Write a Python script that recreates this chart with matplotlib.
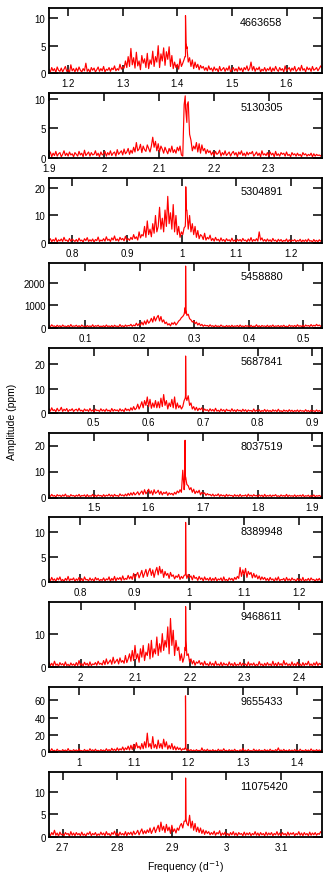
import numpy as np
import matplotlib
matplotlib.use("Agg")
import matplotlib.pyplot as plt
from matplotlib.ticker import FormatStrFormatter

plt.rcParams['font.family'] = ['Liberation Sans', 'DejaVu Sans']

# star IDs (KIC), one panel each
stars = ["4663658", "5130305", "5304891", "5458880", "5687841",
         "8037519", "8389948", "9468611", "9655433", "11075420"]

# frequency window of each panel (d^-1)
f_lo = [1.165, 1.900, 0.757, 0.034, 0.418, 1.418, 0.743, 1.942, 0.945, 2.675]
f_hi = [1.665, 2.397, 1.257, 0.534, 0.918, 1.918, 1.243, 2.442, 1.445, 3.175]

# amplitude axis top
y_top = [11.9, 11.0, 23.8, 2900, 27.0, 25.0, 13.0, 19.3, 75.0, 14.3]

y_ticks = [[0, 5, 10], [0, 5, 10], [0, 10, 20], [0, 1000, 2000], [0, 10, 20],
           [0, 10, 20], [0, 5, 10], [0, 10], [0, 20, 40, 60], [0, 5, 10]]

x_ticks = [[1.2, 1.3, 1.4, 1.5, 1.6],
           [1.9, 2.0, 2.1, 2.2, 2.3],
           [0.8, 0.9, 1.0, 1.1, 1.2],
           [0.1, 0.2, 0.3, 0.4, 0.5],
           [0.5, 0.6, 0.7, 0.8, 0.9],
           [1.5, 1.6, 1.7, 1.8, 1.9],
           [0.8, 0.9, 1.0, 1.1, 1.2],
           [2.0, 2.1, 2.2, 2.3, 2.4],
           [1.0, 1.1, 1.2, 1.3, 1.4],
           [2.7, 2.8, 2.9, 3.0, 3.1]]

# amplitude spectra on an even grid across each window
# (one row = 0.05 d^-1)
amp_4663658 = [
    0.6,0.2,1.0,0.4,0.8,0.1,1.1,0.5,0.3,0.9,0.2,0.7,1.2,0.3,0.6,0.1,1.5,0.4,0.8,0.2,
    0.9,0.3,1.1,0.5,0.2,0.8,0.4,1.8,0.3,0.7,0.1,1.0,0.5,0.9,0.2,0.6,1.1,0.3,0.8,0.4,
    1.2,0.2,0.7,0.5,1.0,0.3,0.9,0.6,1.3,0.4,0.8,0.5,1.6,0.7,1.1,0.9,2.2,1.0,3.0,1.2,
    4.5,1.5,2.8,0.9,3.8,1.3,2.2,0.6,3.2,1.8,2.6,1.0,3.6,0.8,2.4,1.6,4.0,1.2,3.0,2.0,
    5.0,1.0,3.5,2.2,4.6,1.4,3.9,2.5,4.8,1.2,3.2,0.8,2.0,1.0,1.6,0.7,2.6,1.2,1.8,2.5,
    3.0,4.5,2.0,2.8,1.2,2.4,0.8,2.0,1.0,1.6,0.6,1.4,0.9,1.2,0.5,1.0,0.4,1.3,0.6,0.9,
    0.3,1.1,0.5,0.8,0.2,1.2,0.4,0.7,1.0,0.3,0.9,0.5,1.3,0.2,0.6,1.0,0.4,0.8,0.3,1.1,
    0.5,0.9,0.2,1.0,0.6,1.3,0.4,0.8,2.0,0.5,1.2,0.3,0.9,0.6,1.1,0.2,0.7,0.4,1.0,0.3,
    0.8,0.5,1.1,0.2,0.9,0.4,1.2,0.6,0.3,1.0,0.5,0.8,0.2,1.3,0.4,0.7,1.0,0.3,0.9,0.5,
    1.2,0.3,0.6,1.0,0.4,1.4,0.5,0.8,0.2,1.1,0.6,0.9,0.3,1.2,0.5,0.7,1.0,0.4,0.8,1.3,
    0.9]
amp_5130305 = [
    0.5,1.0,0.2,0.8,0.4,1.1,0.3,0.7,0.9,0.2,0.6,1.2,0.4,0.8,0.3,1.0,0.5,0.7,0.2,0.9,
    0.6,0.3,1.1,0.5,0.8,0.2,1.3,0.4,0.7,1.0,0.3,0.9,0.5,0.6,1.2,0.4,0.8,0.2,1.0,0.5,
    0.7,1.1,0.3,0.9,0.5,1.2,0.4,0.8,1.0,0.3,1.4,0.6,0.9,1.2,0.5,1.5,0.7,1.0,1.6,0.6,
    1.3,0.8,1.8,1.0,2.6,1.2,1.5,2.3,0.9,2.0,1.4,1.1,2.2,1.6,1.0,2.0,3.5,1.8,2.8,1.2,
    2.4,1.0,2.0,1.5,0.8,1.8,1.2,0.7,1.6,1.0,2.0,0.9,1.4,0.8,1.8,1.2,2.0,0.5,0.3,9.0,
    8.5,6.0,9.5,4.0,3.0,1.2,2.0,1.5,2.6,1.0,2.4,0.8,2.2,1.2,1.6,0.7,1.4,0.9,1.2,0.5,
    1.0,0.4,1.1,0.6,0.8,1.3,0.3,0.9,0.5,1.2,0.4,0.7,1.0,0.3,0.8,1.1,0.5,0.9,0.2,1.0,
    0.6,1.2,0.4,0.8,0.3,1.0,0.5,0.9,0.7,1.1,0.3,0.6,1.0,0.4,0.8,0.2,1.2,0.5,0.7,0.4,
    0.9,0.3,1.0,0.5,0.8,0.2,1.1,0.4,0.7,0.3,0.9,0.6,0.8,0.3,1.0,0.4,0.6,0.2,0.9,0.5,
    0.7,0.3,0.8,0.4,0.6,0.2,0.9,0.5,0.7,0.3,0.6,0.4,0.8,0.2,0.7,0.3,0.6,0.4,0.5,0.3,
    0.6]
amp_5304891 = [
    0.8,1.5,0.4,1.2,0.6,1.8,0.3,1.1,0.7,1.4,0.5,2.0,0.8,1.0,0.4,1.6,0.6,1.3,0.9,0.5,
    1.2,0.4,1.7,0.7,1.0,0.3,1.5,0.8,1.9,0.5,1.1,0.6,1.4,0.3,1.2,0.8,2.1,0.5,1.0,0.7,
    1.5,0.6,2.2,0.9,1.3,0.5,1.8,1.0,2.5,0.8,1.4,0.6,2.0,1.1,1.6,0.7,2.4,1.0,1.5,0.9,
    2.0,1.2,3.0,1.5,2.2,1.0,4.0,1.8,3.0,2.5,6.0,2.0,8.0,3.0,5.0,2.2,7.0,3.5,10.0,4.0,
    6.0,13.0,5.0,9.0,4.0,12.0,6.0,17.0,7.0,11.0,5.0,14.0,4.0,10.0,3.0,6.0,2.0,4.0,3.0,5.5,
    8.0,12.0,5.0,10.0,4.0,7.0,3.0,6.0,2.0,4.5,1.5,3.0,2.5,1.2,3.5,1.0,2.0,1.4,2.8,0.8,
    1.6,0.6,2.0,0.9,1.3,0.5,1.8,0.7,1.2,0.4,1.5,0.8,1.1,0.5,1.7,0.6,1.0,0.4,1.3,0.7,
    1.2,0.5,1.6,0.8,1.0,0.4,1.4,0.6,1.9,0.5,1.2,0.7,1.5,0.6,4.0,1.0,1.8,0.6,1.2,0.5,
    1.4,0.6,1.1,0.4,1.6,0.7,1.0,0.3,1.3,0.6,1.2,0.4,0.9,0.6,1.4,0.3,1.1,0.5,1.0,0.7,
    1.2,0.4,0.9,0.6,1.3,0.3,1.0,0.5,1.1,0.4,1.4,0.6,0.8,0.3,1.2,0.5,0.9,0.4,1.1,0.6,
    1.0]
amp_5458880 = [
    100,40,130,60,80,30,110,50,90,20,120,60,70,40,100,30,140,50,80,60,
    110,40,90,30,120,60,70,20,100,50,80,40,130,30,90,60,110,40,70,50,
    90,30,120,50,80,40,100,20,110,60,70,40,140,50,90,30,120,60,100,80,
    150,60,120,80,200,90,180,110,250,120,300,150,350,200,280,420,250,500,300,450,
    550,300,500,250,350,180,250,120,180,80,220,150,250,120,200,300,350,450,500,600,
    650,550,600,400,350,250,300,180,250,120,200,90,150,60,120,80,100,50,130,60,
    90,30,110,50,80,40,120,60,70,20,100,50,90,30,110,40,80,60,100,30,
    120,50,80,30,100,60,90,20,110,40,70,50,130,40,90,30,100,60,80,40,
    110,30,90,50,120,40,80,60,100,30,90,50,110,40,70,30,120,60,90,50,
    100,40,130,60,90,50,110,30,120,70,100,50,140,60,110,70,150,80,120,60,
    100]
amp_5687841 = [
    1.5,0.6,2.0,0.8,1.2,0.4,1.8,0.7,1.0,2.2,0.5,1.4,0.8,1.7,0.4,1.2,0.9,1.6,0.5,1.1,
    1.4,0.6,1.8,0.7,1.0,0.4,1.5,0.8,1.2,0.5,1.7,0.6,1.1,0.3,1.4,0.8,1.0,0.5,1.6,0.7,
    1.2,0.5,1.5,0.7,1.0,0.4,1.7,0.6,1.3,0.8,1.1,0.5,1.6,0.7,1.2,0.4,1.8,0.9,1.4,0.7,
    2.0,1.0,2.5,1.2,1.8,3.5,1.5,2.8,4.5,2.0,5.0,3.0,6.5,2.5,5.5,1.8,4.0,2.2,5.0,2.0,
    4.5,2.0,6.0,2.5,7.5,3.0,5.0,1.5,4.0,2.5,5.5,2.0,6.5,1.5,4.0,2.0,3.0,1.5,2.5,5.0,
    7.0,5.0,7.0,3.0,4.0,1.5,2.5,1.0,2.2,0.8,1.8,1.2,2.0,0.6,1.5,0.9,1.2,0.5,1.6,0.7,
    1.3,0.5,1.8,0.6,1.0,0.4,1.5,0.7,1.2,0.3,1.4,0.8,1.0,0.5,1.6,0.6,1.1,0.4,1.3,0.7,
    1.0,0.4,1.4,0.6,1.2,0.3,1.1,0.7,0.9,0.4,1.5,0.5,1.0,0.6,1.2,0.3,0.9,0.5,1.3,0.4,
    1.1,0.5,0.9,0.3,1.2,0.6,1.0,0.4,1.4,0.5,0.8,0.3,1.1,0.6,0.9,0.4,1.2,0.5,1.0,0.3,
    0.9,0.5,1.1,0.3,1.0,0.6,0.8,0.4,1.2,0.5,0.9,0.3,1.0,0.6,0.8,0.4,1.1,0.5,0.9,0.4,
    0.8]
amp_8037519 = [
    1.0,0.4,1.2,0.5,0.8,0.2,1.1,0.6,0.9,0.3,1.0,0.5,1.3,0.4,0.7,0.2,1.1,0.6,0.8,0.3,
    0.9,0.5,1.2,0.3,0.8,0.6,1.0,0.2,1.1,0.4,0.7,0.5,1.2,0.3,0.9,0.4,1.0,0.6,0.8,0.3,
    1.1,0.4,0.9,0.6,1.3,0.5,1.0,0.3,1.2,0.6,0.8,0.4,1.4,0.7,1.0,0.5,1.3,0.6,1.6,0.8,
    1.8,0.9,2.0,1.0,1.5,2.2,1.0,1.8,2.5,1.2,3.0,1.4,2.2,3.2,1.5,2.6,1.0,3.0,1.6,2.0,
    2.8,1.2,2.4,1.0,2.0,1.5,2.2,0.8,1.8,1.2,1.6,0.9,2.0,1.3,2.5,1.8,3.0,2.0,10.5,3.0,
    8.0,5.0,4.5,3.0,3.8,2.0,3.2,1.5,2.5,1.8,2.8,1.0,2.0,1.4,1.8,0.8,1.5,1.0,1.2,0.6,
    1.3,0.5,1.0,0.7,1.4,0.4,1.1,0.6,0.9,0.3,1.2,0.5,1.0,0.7,0.8,0.3,1.1,0.5,0.9,0.4,
    1.2,0.4,0.8,0.6,1.0,0.3,1.3,0.5,0.9,0.4,1.1,0.6,0.8,0.3,1.0,0.5,0.9,0.2,1.2,0.4,
    0.8,0.5,1.0,0.3,0.9,0.6,1.1,0.4,0.7,0.3,1.0,0.5,0.8,0.4,1.2,0.3,0.9,0.5,0.7,0.4,
    1.0,0.3,0.8,0.5,0.9,0.4,1.1,0.3,0.7,0.5,0.9,0.2,0.8,0.4,1.0,0.3,0.7,0.5,0.8,0.4,
    0.6]
amp_8389948 = [
    0.8,0.3,1.0,0.4,0.7,0.2,0.9,0.5,1.1,0.3,0.6,0.2,0.8,0.4,1.2,0.3,0.7,0.5,0.9,0.2,
    0.7,0.4,1.0,0.3,0.8,0.2,1.1,0.5,0.6,0.3,0.9,0.4,0.7,0.2,1.0,0.5,0.8,0.3,0.6,0.4,
    0.9,0.3,0.7,0.5,1.1,0.2,0.8,0.4,1.2,0.3,0.9,0.6,1.0,0.4,1.3,0.5,0.8,0.6,1.4,0.7,
    1.2,0.6,1.8,0.8,1.5,2.0,0.9,1.6,2.4,1.0,1.8,2.6,1.2,2.2,2.8,1.4,2.5,1.0,2.2,3.0,
    1.5,3.2,1.8,2.6,1.0,2.2,1.4,1.8,0.8,2.0,1.2,1.5,0.7,1.3,1.0,1.6,0.6,1.2,0.8,1.4,
    1.8,0.8,1.6,1.0,1.3,0.5,1.4,0.8,1.0,0.4,1.2,0.6,0.9,0.3,1.1,0.5,0.8,0.4,1.0,0.3,
    0.8,0.4,1.0,0.3,0.7,0.5,0.9,0.2,1.1,0.4,0.6,0.3,0.9,0.5,0.8,0.3,1.0,0.6,1.2,0.8,
    3.0,1.2,2.5,1.5,2.8,1.0,2.2,1.6,2.0,0.9,1.8,1.0,1.5,0.7,1.3,0.5,1.1,0.6,1.0,0.4,
    0.8,0.3,1.0,0.5,0.7,0.2,0.9,0.4,1.1,0.3,0.6,0.5,0.8,0.2,1.0,0.4,0.7,0.3,0.9,0.5,
    0.6,0.2,0.8,0.4,0.7,0.3,1.0,0.2,0.6,0.4,0.8,0.3,0.9,0.5,0.6,0.2,0.7,0.4,0.8,0.3,
    0.5]
amp_9468611 = [
    1.5,0.5,1.2,0.4,1.8,0.6,1.0,0.3,1.4,0.7,1.1,0.4,1.6,0.5,0.9,0.3,1.3,0.6,1.0,0.4,
    1.4,0.5,2.0,0.6,1.1,0.4,1.5,0.7,1.2,0.3,1.6,0.5,1.0,0.8,1.4,0.6,1.8,0.9,1.2,0.7,
    2.0,0.8,2.5,1.0,1.6,2.2,0.9,3.0,1.2,1.8,2.4,1.0,2.8,1.5,2.0,1.2,3.5,1.4,2.5,4.0,
    1.8,5.0,2.0,6.5,2.5,4.0,1.5,5.5,3.0,6.5,2.0,4.5,3.5,7.0,2.5,8.0,3.0,5.5,4.0,9.0,
    3.5,7.0,4.5,10.0,5.0,8.0,6.0,12.0,4.0,14.5,6.5,11.0,3.5,8.0,5.0,6.0,2.0,4.0,1.5,3.0,
    5.0,3.5,4.0,1.5,2.5,1.0,2.0,0.6,1.6,1.2,2.0,0.8,1.4,0.5,1.8,0.7,1.1,0.4,1.6,0.6,
    1.2,0.4,1.8,0.6,1.0,0.5,1.5,0.3,1.3,0.7,1.0,0.4,1.6,0.6,1.1,0.3,1.4,0.5,0.9,0.6,
    1.5,0.4,1.2,0.7,1.0,0.3,1.6,0.5,1.1,0.6,1.3,0.4,0.9,0.5,1.7,0.6,1.0,0.3,1.2,0.5,
    1.4,0.6,1.0,0.4,1.8,0.5,1.2,0.3,1.5,0.6,1.1,0.4,2.0,0.7,1.3,0.5,1.0,0.4,1.6,0.5,
    1.1,0.4,1.5,0.6,1.0,0.3,1.4,0.5,1.2,0.7,1.8,0.5,1.0,0.4,1.3,0.6,1.6,0.5,1.2,0.8,
    1.4]
amp_9655433 = [
    3.0,1.0,4.0,1.5,2.2,0.8,3.5,1.2,2.0,0.6,3.0,1.5,2.5,1.0,4.2,1.2,2.2,0.8,3.0,1.5,
    2.6,1.0,3.8,1.4,2.0,0.7,3.2,1.2,2.4,0.9,4.0,1.5,2.8,1.0,3.5,1.3,2.2,0.8,3.0,1.6,
    2.5,1.0,4.0,1.5,3.0,1.2,4.5,2.0,3.5,1.5,5.0,2.0,4.0,2.5,6.0,2.0,5.0,3.0,7.0,2.5,
    8.0,3.0,9.0,4.0,11.0,5.0,7.0,3.5,10.0,4.0,12.0,5.0,22.0,6.0,10.0,4.0,18.0,5.0,9.0,4.0,
    14.0,5.0,10.0,4.0,15.0,6.0,12.0,3.5,8.0,4.0,10.0,3.0,7.0,2.5,6.0,3.0,5.0,2.0,4.0,3.0,
    4.0,2.0,3.5,1.5,3.0,1.2,2.5,1.0,3.0,1.4,2.2,0.8,5.0,1.5,2.8,1.0,3.5,1.2,2.4,0.9,
    3.0,1.2,2.2,0.8,3.5,1.4,2.6,1.0,4.0,1.5,2.2,0.8,3.0,1.2,2.5,0.9,3.4,1.3,2.0,0.8,
    2.8,1.0,4.5,1.5,2.4,0.9,3.2,1.2,2.0,0.7,3.6,1.4,2.5,1.0,3.0,1.1,2.2,0.8,3.2,1.3,
    2.5,1.0,3.5,1.2,2.2,0.8,3.0,1.5,5.0,1.2,2.6,0.9,3.3,1.3,2.2,0.8,3.0,1.1,2.5,1.0,
    3.2,1.2,2.4,0.9,3.5,1.4,2.2,0.8,3.0,1.2,2.5,1.0,3.8,1.5,2.4,1.0,3.0,1.3,2.6,1.5,
    3.0]
amp_11075420 = [
    0.8,0.3,1.0,0.5,1.5,0.4,0.9,0.2,1.1,0.5,0.7,0.3,1.0,0.6,0.8,0.2,1.2,0.4,0.9,0.3,
    1.0,0.5,0.8,0.3,1.1,0.4,0.7,0.2,0.9,0.6,1.2,0.3,0.8,0.5,1.0,0.3,0.7,0.4,1.1,0.5,
    0.9,0.3,1.2,0.5,0.8,0.2,1.0,0.6,1.3,0.4,0.9,0.3,1.1,0.5,0.8,0.4,1.2,0.3,1.0,0.6,
    1.1,0.4,1.3,0.6,0.9,1.5,0.5,1.2,1.8,0.7,1.4,0.8,1.6,1.0,2.0,0.8,1.5,2.2,1.0,1.8,
    2.6,1.2,3.3,1.5,2.4,1.0,2.8,1.4,2.2,0.8,2.6,1.2,1.8,0.9,2.0,1.5,2.5,3.0,2.0,3.5,
    4.0,3.0,2.5,4.8,2.0,3.5,1.5,3.0,1.2,2.2,1.0,2.0,0.8,1.6,0.6,1.4,0.8,1.2,0.5,1.0,
    0.6,1.3,0.4,1.0,0.7,1.4,0.3,0.9,0.5,1.1,0.4,0.8,0.3,1.0,0.5,1.2,0.4,0.9,0.3,1.0,
    0.6,0.8,0.3,1.1,0.4,0.9,0.5,1.0,0.3,0.8,0.5,1.2,0.4,0.9,0.3,1.0,0.5,0.8,0.3,1.1,
    0.4,0.9,0.5,1.0,0.3,0.8,0.5,1.2,0.4,0.9,0.3,1.0,0.5,0.8,0.3,1.1,0.4,0.9,0.6,1.0,
    0.3,0.8,0.5,1.2,0.4,0.9,0.3,1.0,0.5,0.8,0.3,1.1,0.4,0.9,0.5,1.0,0.4,0.8,0.6,1.2,
    0.9]

spectra = [amp_4663658, amp_5130305, amp_5304891, amp_5458880, amp_5687841,
           amp_8037519, amp_8389948, amp_9468611, amp_9655433, amp_11075420]

# the narrow dominant peak of each star (finer sampling than the grid)
peak_f = [[1.4140, 1.4150, 1.4160, 1.4175, 1.4190],
          [2.1480, 2.1495, 2.1515],
          [1.0065, 1.0075, 1.0085],
          [0.2835, 0.2842, 0.2849],
          [0.6675, 0.6682, 0.6689],
          [1.6665, 1.6672, 1.6679],
          [0.9925, 0.9932, 0.9939],
          [2.1915, 2.1922, 2.1929],
          [1.1944, 1.1950, 1.1956],
          [2.9245, 2.9252, 2.9259]]
peak_a = [[3.0, 10.5, 5.5, 4.8, 3.0],
          [10.5, 7.5, 9.0],
          [6.0, 20.5, 12.0],
          [900, 2750, 800],
          [6.0, 23.5, 6.5],
          [5.0, 22.0, 7.0],
          [1.5, 12.0, 1.8],
          [6.0, 18.0, 8.0],
          [5.0, 65.0, 5.0],
          [3.5, 13.0, 4.0]]

W, H = 335, 879
fig = plt.figure(figsize=(W / 100, H / 100), dpi=100)

left, right = 49, 322
top0, pitch, ph = 9, 84.9, 65

for i in range(len(stars)):
    top = top0 + pitch * i
    ax = fig.add_axes([left / W, 1 - (top + ph) / H, (right - left) / W, ph / H])

    amp = np.array(spectra[i], dtype=float)
    f = np.linspace(f_lo[i], f_hi[i], len(amp))
    f = np.concatenate([f, peak_f[i]])
    a = np.concatenate([amp, peak_a[i]])
    order = np.argsort(f, kind="stable")
    ax.plot(f[order], a[order], color="#ff0000", lw=0.85)

    ax.set_xlim(f_lo[i], f_hi[i])
    ax.set_ylim(0, y_top[i])
    ax.set_xticks(x_ticks[i])
    ax.set_yticks(y_ticks[i])
    ax.xaxis.set_major_formatter(FormatStrFormatter("%g"))
    ax.yaxis.set_major_formatter(FormatStrFormatter("%g"))
    ax.tick_params(direction="in", top=True, right=True, width=1.1,
                   labelsize=7)
    ax.tick_params(axis="x", length=5.5, pad=3.5)
    ax.tick_params(axis="y", length=6.5, pad=2.5)
    for s in ax.spines.values():
        s.set_linewidth(1.3)

    ax.text(0.70, 0.79, stars[i], transform=ax.transAxes, fontsize=7.8,
            va="center", ha="left")

fig.text(12 / W, 1 - 422 / H, "Amplitude (ppm)", rotation=90, fontsize=7.5,
         ha="center", va="center")
fig.text(186 / W, 1 - 867 / H, "Frequency (d$^{-1}$)", fontsize=7.5,
         ha="center", va="center")

fig.savefig("out.png", dpi=100)
